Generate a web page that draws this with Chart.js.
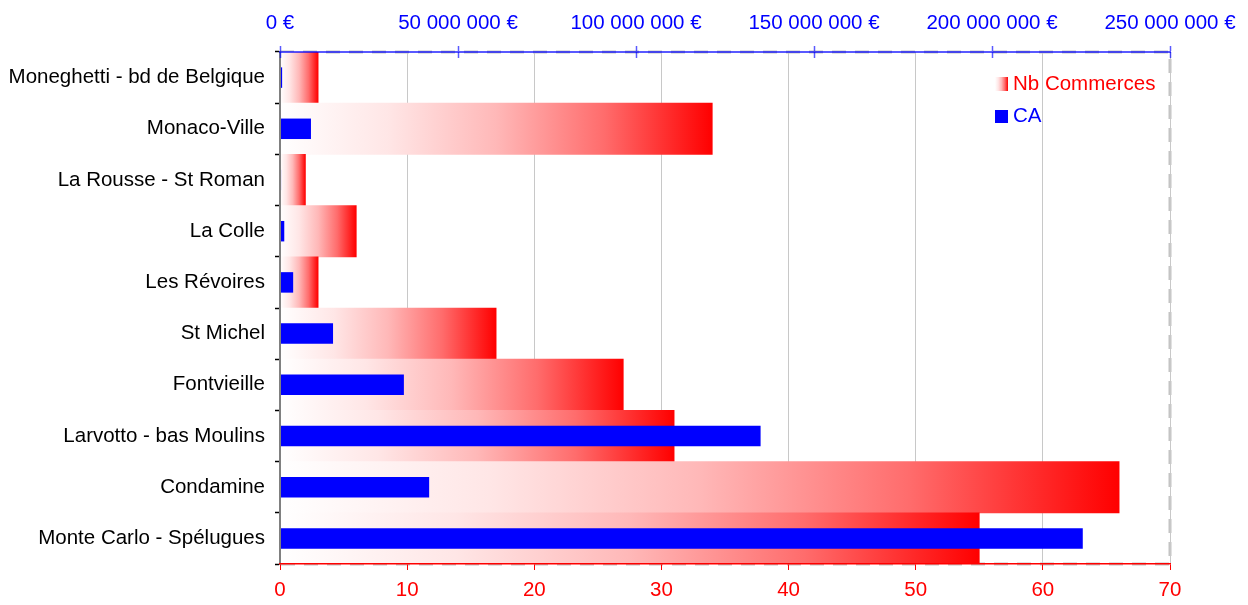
<!DOCTYPE html>
<html lang="fr">
<head>
<meta charset="UTF-8">
<title>Commerces par quartier</title>
<script src="https://cdn.jsdelivr.net/npm/chart.js"></script>
<style>
  html, body { margin: 0; padding: 0; background: #fff; }
  .wrap { width: 1248px; height: 605px; position: relative; }
</style>
</head>
<body>
<div class="wrap"><canvas id="quartiers"></canvas></div>
<script>
// Quartiers, du haut vers le bas
const quartiers = [
  'Moneghetti - bd de Belgique',
  'Monaco-Ville',
  'La Rousse - St Roman',
  'La Colle',
  'Les Révoires',
  'St Michel',
  'Fontvieille',
  'Larvotto - bas Moulins',
  'Condamine',
  'Monte Carlo - Spélugues'
];
// nombre de commerces (axe du bas)
const nbCommerces = [3, 34, 2, 6, 3, 17, 27, 31, 66, 55];
// chiffre d'affaires en euros (axe du haut)
const chiffreAffaires = [600000, 8700000, 300000, 1200000, 3700000, 14900000, 34800000, 135000000, 41900000, 225500000];

const FONT = '"Liberation Sans", Arial, sans-serif';
const TAILLE = 20.5;

function euros(v) {
  return String(v).replace(/\B(?=(\d{3})+(?!\d))/g, ' ') + ' €';
}

// blanc -> rouge sur la longueur de chaque barre
function degradeRouge(ctx, x0, x1) {
  const g = ctx.createLinearGradient(x0, 0, x1, 0);
  g.addColorStop(0, '#ffffff');
  g.addColorStop(0.25, '#ffe6e6');
  g.addColorStop(0.5, '#ffb8b8');
  g.addColorStop(0.75, '#ff6c6c');
  g.addColorStop(1, '#ff0000');
  return g;
}

// cadre pointillé gris + petites graduations bleues vers l'intérieur
const cadre = {
  id: 'cadre',
  beforeDraw(chart) {
    const { ctx, chartArea: a } = chart;
    ctx.save();
    ctx.strokeStyle = '#c4c4c4';
    ctx.lineWidth = 3;
    ctx.setLineDash([14, 9]);
    ctx.beginPath();
    ctx.moveTo(a.left, a.top);
    ctx.lineTo(a.right, a.top);
    ctx.lineTo(a.right, a.bottom);
    ctx.lineTo(a.left, a.bottom);
    ctx.stroke();
    ctx.restore();
  },
  afterDraw(chart) {
    const { ctx, chartArea: a } = chart;
    const x2 = chart.scales.x2;
    ctx.save();
    ctx.strokeStyle = 'rgba(0,0,255,0.65)';
    ctx.lineWidth = 1.5;
    x2.ticks.forEach((t, i) => {
      const px = Math.round(x2.getPixelForTick(i)) + 0.5;
      ctx.beginPath();
      ctx.moveTo(px, a.top);
      ctx.lineTo(px, a.top + 6);
      ctx.stroke();
    });
    ctx.restore();
  }
};

// légende dans le coin haut droit
const legende = {
  id: 'legende',
  afterDraw(chart) {
    const { ctx, chartArea: a } = chart;
    const x = a.right - 175;
    let y = a.top + 32;
    ctx.save();
    ctx.font = TAILLE + 'px ' + FONT;
    ctx.textBaseline = 'middle';
    ctx.textAlign = 'left';
    // Nb Commerces
    ctx.fillStyle = degradeRouge(ctx, x, x + 13);
    ctx.fillRect(x, y - 7, 13, 14);
    ctx.fillStyle = '#ff0000';
    ctx.fillText(chart.data.datasets[0].label, x + 18, y);
    // CA
    y += 32;
    ctx.fillStyle = '#0000ff';
    ctx.fillRect(x, y - 6, 13, 13);
    ctx.fillText(chart.data.datasets[1].label, x + 18, y);
    ctx.restore();
  }
};

new Chart(document.getElementById('quartiers'), {
  type: 'bar',
  data: {
    labels: quartiers,
    datasets: [{
      label: 'Nb Commerces',
      data: nbCommerces,
      xAxisID: 'x',
      grouped: false,
      order: 2,
      barPercentage: 1,
      categoryPercentage: 1,
      backgroundColor(c) {
        const sx = c.chart.scales.x;
        if (!sx || c.type !== 'data') return '#ff0000';
        const x0 = sx.getPixelForValue(0);
        const x1 = sx.getPixelForValue(c.raw);
        if (!isFinite(x0) || !isFinite(x1) || x1 === x0) return '#ff0000';
        return degradeRouge(c.chart.ctx, x0, x1);
      }
    }, {
      label: 'CA',
      data: chiffreAffaires,
      xAxisID: 'x2',
      grouped: false,
      order: 1,
      barPercentage: 0.4,
      categoryPercentage: 1,
      backgroundColor: '#0000ff'
    }]
  },
  options: {
    indexAxis: 'y',
    responsive: true,
    maintainAspectRatio: false,
    animation: false,
    layout: { padding: { left: 0, right: 78, top: 0, bottom: 0 } },
    plugins: {
      legend: { display: false },
      tooltip: { enabled: false }
    },
    scales: {
      y: {
        type: 'category',
        afterFit(s) { s.width = 280; },
        grid: { offset: true, drawOnChartArea: false, tickLength: 5, tickColor: '#000', tickWidth: 1.5 },
        border: { color: '#808080', width: 2, z: 1 },
        ticks: { color: '#000', padding: 10, font: { family: FONT, size: TAILLE } }
      },
      x: {
        position: 'bottom',
        min: 0,
        max: 70,
        afterFit(s) { s.height = 41; },
        grid: { color: '#c8c8c8', lineWidth: 1, tickColor: '#ff0000', tickLength: 6 },
        border: { color: '#ff0000', width: 1.5, z: 1 },
        ticks: { stepSize: 10, color: '#ff0000', padding: 8, font: { family: FONT, size: TAILLE } }
      },
      x2: {
        position: 'top',
        min: 0,
        max: 250000000,
        afterFit(s) { s.height = 52; },
        grid: { drawOnChartArea: false, tickColor: 'rgba(0,0,255,0.65)', tickLength: 6, tickWidth: 1.5 },
        border: { color: 'rgba(0,0,255,0.65)', width: 2, z: 1 },
        ticks: { stepSize: 50000000, color: '#0000ff', padding: 10, maxRotation: 0, autoSkip: false, font: { family: FONT, size: TAILLE }, callback: v => euros(v) }
      }
    }
  },
  plugins: [cadre, legende]
});
</script>
</body>
</html>
